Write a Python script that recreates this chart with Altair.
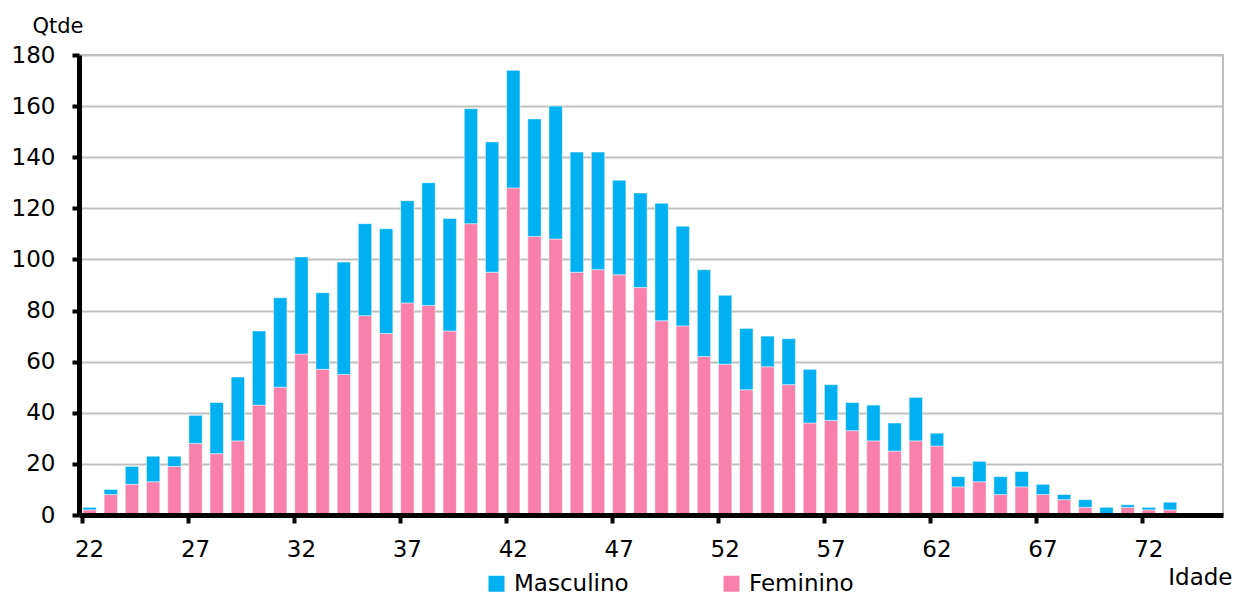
import altair as alt
import pandas as pd

# ---- data ----
ages = list(range(22, 74))
feminino = [2, 8, 12, 13, 19, 28, 24, 29, 43, 50, 63, 57, 55, 78, 71, 83, 82, 72, 114, 95,
            128, 109, 108, 95, 96, 94, 89, 76, 74, 62, 59, 49, 58, 51, 36, 37, 33, 29, 25, 29,
            27, 11, 13, 8, 11, 8, 6, 3, 0, 3, 2, 2]
masculino = [1, 2, 7, 10, 4, 11, 20, 25, 29, 35, 38, 30, 44, 36, 41, 40, 48, 44, 45, 51,
             46, 46, 52, 47, 46, 37, 37, 46, 39, 34, 27, 24, 12, 18, 21, 14, 11, 14, 11, 17,
             5, 4, 8, 7, 6, 4, 2, 3, 3, 1, 1, 3]
age_domain = list(range(22, 76))
x_tick_values = [22, 27, 32, 37, 42, 47, 52, 57, 62, 67, 72]
y_tick_values = [0, 20, 40, 60, 80, 100, 120, 140, 160, 180]
series = ["Masculino", "Feminino"]
series_order = {"Feminino": 0, "Masculino": 1}
colors = ["#00B0F0", "#F880AA"]

rows = []
for a, f, m in zip(ages, feminino, masculino):
    rows.append({"idade": a, "sexo": "Feminino", "qtde": f, "ord": series_order["Feminino"]})
    rows.append({"idade": a, "sexo": "Masculino", "qtde": m, "ord": series_order["Masculino"]})
df = pd.DataFrame(rows)

FONT = "DejaVu Sans"

chart = alt.Chart(df).mark_bar(stroke="white", strokeWidth=0.8, strokeOpacity=0.6).encode(
    x=alt.X(
        "idade:O",
        scale=alt.Scale(domain=age_domain, paddingInner=0.37, paddingOuter=0.185),
        axis=alt.Axis(
            values=x_tick_values, bandPosition=0, labelAngle=0,
            labelFont=FONT, labelFontSize=23, labelColor="black", labelPadding=15,
            domainColor="black", domainWidth=5, tickColor="black", tickWidth=4, tickSize=8,
            grid=False, title="Idade", titleFont=FONT, titleFontSize=23, titleFontWeight="normal",
            titleColor="black", titleAlign="right", titleBaseline="alphabetic",
            titleX=1153, titleY=69, zindex=1,
        ),
    ),
    y=alt.Y(
        "qtde:Q", stack="zero",
        scale=alt.Scale(domain=[0, 180], nice=False),
        axis=alt.Axis(
            values=y_tick_values, labelFont=FONT, labelFontSize=23, labelColor="black",
            labelPadding=17, domainColor="black", domainWidth=5, tickColor="black",
            tickWidth=4, tickSize=7, grid=True, gridColor="#BFBFBF", gridWidth=2,
            title="Qtde", titleFont=FONT, titleFontSize=21, titleFontWeight="normal",
            titleColor="black", titleAngle=0, titleAlign="left", titleBaseline="alphabetic",
            titleX=-47, titleY=-23,
        ),
    ),
    color=alt.Color(
        "sexo:N",
        scale=alt.Scale(domain=series, range=colors),
        legend=alt.Legend(
            title=None, orient="none", direction="horizontal", legendX=406, legendY=517,
            symbolType="square", symbolSize=256, symbolStrokeWidth=0, symbolOpacity=1,
            labelFont=FONT, labelFontSize=23, labelColor="black", labelOffset=6,
            columnPadding=91, padding=0,
        ),
    ),
    order=alt.Order("ord:Q", sort="ascending"),
).properties(
    width=1144, height=460,
    autosize=alt.AutoSizeParams(type="none"),
    padding={"left": 71, "top": 47, "right": 10, "bottom": 80},
).configure_view(stroke="#BFBFBF", strokeWidth=2)

chart.save("out.html", embed_options={"renderer": "svg", "actions": False})
